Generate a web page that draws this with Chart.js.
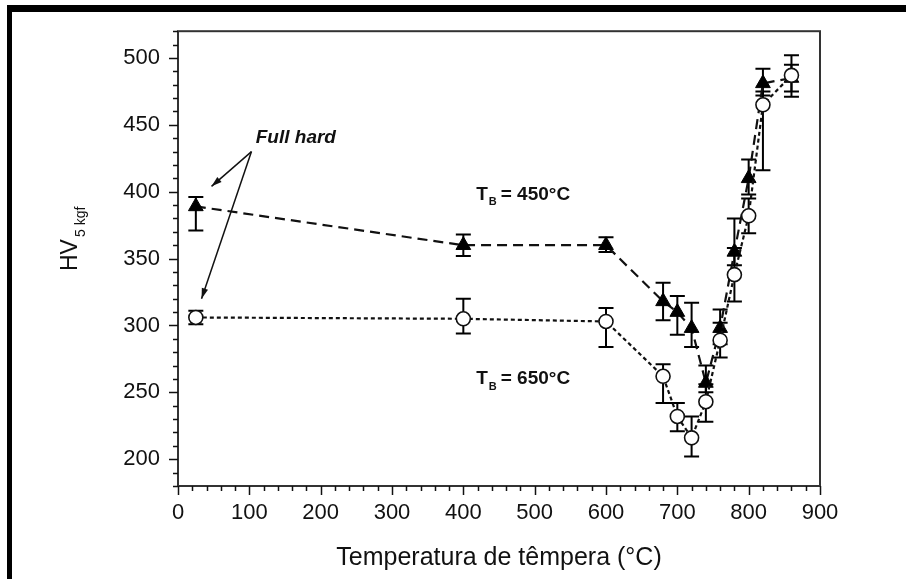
<!DOCTYPE html>
<html lang="pt">
<head>
    <meta charset="UTF-8">
    <title>Dureza HV x temperatura de têmpera</title>
    <script src="https://cdn.jsdelivr.net/npm/chart.js"></script>
    <style>
        body { margin: 0; background: #fff; }
        .page { position: relative; width: 906px; height: 579px; overflow: hidden; }
        .page canvas { position: absolute; left: 0; top: 0; }
        .frame {
            position: absolute; left: 7px; top: 5px; right: 0; bottom: 0;
            border-top: 7px solid #000; border-left: 5px solid #000;
            pointer-events: none;
        }
    </style>
</head>
<body>
    <div class="page">
        <canvas id="hvChart" width="906" height="579"></canvas>
        <div class="frame"></div>
    </div>
    <script>
        // temperatura de têmpera (°C)
        const temps = [25, 400, 600, 680, 700, 720, 740, 760, 780, 800, 820, 860];

        // T_B = 450°C (triângulos)
        const hv450   = [389, 360, 360, 318, 310, 298, 257, 298, 355, 410, 481, 485];
        const hv450Lo = [371, 352, 355, 304, 293, 284, 250, 286, 345, 398, 472, 475];
        const hv450Hi = [396, 368, 366, 332, 322, 317, 270, 312, 380, 424, 492, 495];

        // T_B = 650°C (círculos)
        const hv650   = [306, 305, 303, 262, 232, 216, 243, 289, 338, 382, 465, 487];
        const hv650Lo = [301, 294, 284, 242, 221, 202, 228, 276, 318, 369, 416, 471];
        const hv650Hi = [311, 320, 313, 271, 242, 232, 256, 302, 358, 395, 475, 502];

        const xLabels = [0, 100, 200, 300, 400, 500, 600, 700, 800, 900];
        const yLabels = [200, 250, 300, 350, 400, 450, 500];

        const FONT = "'Liberation Sans', Arial, sans-serif";

        // error bars, drawn under the markers
        const errorBars = {
            id: 'errorBars',
            beforeDatasetsDraw(chart) {
                const ctx = chart.ctx;
                const xs = chart.scales.x, ys = chart.scales.y;
                ctx.save();
                ctx.strokeStyle = '#000';
                ctx.lineWidth = 2;
                chart.data.datasets.forEach(ds => {
                    ds.data.forEach((p, i) => {
                        const px = xs.getPixelForValue(p.x);
                        const lo = ys.getPixelForValue(ds.errLo[i]);
                        const hi = ys.getPixelForValue(ds.errHi[i]);
                        ctx.beginPath();
                        ctx.moveTo(px, lo); ctx.lineTo(px, hi);
                        ctx.moveTo(px - 7.5, lo); ctx.lineTo(px + 7.5, lo);
                        ctx.moveTo(px - 7.5, hi); ctx.lineTo(px + 7.5, hi);
                        ctx.stroke();
                    });
                });
                ctx.restore();
            }
        };

        // box, axis lines, major/minor ticks, y title
        const axesBox = {
            id: 'axesBox',
            afterDraw(chart) {
                const ctx = chart.ctx;
                const a = chart.chartArea;
                const xs = chart.scales.x, ys = chart.scales.y;
                ctx.save();
                ctx.strokeStyle = '#333';
                ctx.lineWidth = 2;
                ctx.strokeRect(a.left, a.top, a.right - a.left, a.bottom - a.top);

                ctx.strokeStyle = '#111';
                ctx.lineWidth = 1.5;
                ctx.beginPath();
                for (let v = 0; v <= 900; v += 20) {
                    const px = Math.round(xs.getPixelForValue(v)) + 0.5;
                    const len = v % 100 === 0 ? 9 : 5;
                    ctx.moveTo(px, a.bottom); ctx.lineTo(px, a.bottom + len);
                }
                for (let v = 180; v <= 520; v += 10) {
                    const py = Math.round(ys.getPixelForValue(v)) + 0.5;
                    const len = v % 50 === 0 ? 9 : 5;
                    ctx.moveTo(a.left, py); ctx.lineTo(a.left - len, py);
                }
                ctx.stroke();

                // HV 5 kgf
                ctx.translate(a.left - 101, 271);
                ctx.rotate(-Math.PI / 2);
                ctx.fillStyle = '#111';
                ctx.textAlign = 'left';
                ctx.textBaseline = 'alphabetic';
                ctx.font = '23px ' + FONT;
                ctx.fillText('HV', 0, 0);
                const w = ctx.measureText('HV').width;
                ctx.font = '14px ' + FONT;
                ctx.fillText('5 kgf', w + 2, 8);
                ctx.restore();
            }
        };

        // text labels and arrows in data coordinates
        const labelPos450 = { x: 418, y: 398 };
        const labelPos650 = { x: 418, y: 260 };
        const fullHardPos = { x: 109, y: 440 };
        const arrowFrom = { x: 103, y: 430 };
        const arrowTips = [{ x: 47, y: 404 }, { x: 33, y: 320 }];

        function drawTb(ctx, px, py, rest) {
            ctx.font = 'bold 19px ' + FONT;
            ctx.fillText('T', px, py);
            let w = ctx.measureText('T').width;
            ctx.font = 'bold 11px ' + FONT;
            ctx.fillText('B', px + w + 1, py + 8);
            const wb = ctx.measureText('B').width;
            ctx.font = 'bold 19px ' + FONT;
            ctx.fillText(rest, px + w + wb + 5, py);
        }

        const notes = {
            id: 'notes',
            afterDatasetsDraw(chart) {
                const ctx = chart.ctx;
                const xs = chart.scales.x, ys = chart.scales.y;
                const P = p => [xs.getPixelForValue(p.x), ys.getPixelForValue(p.y)];
                ctx.save();
                ctx.fillStyle = '#111';
                ctx.textAlign = 'left';
                ctx.textBaseline = 'middle';

                let [lx, ly] = P(labelPos450);
                drawTb(ctx, lx, ly, '= 450°C');
                [lx, ly] = P(labelPos650);
                drawTb(ctx, lx, ly, '= 650°C');

                [lx, ly] = P(fullHardPos);
                ctx.font = 'italic bold 19px ' + FONT;
                ctx.fillText('Full hard', lx, ly);

                const [ox, oy] = P(arrowFrom);
                ctx.strokeStyle = '#111';
                ctx.lineWidth = 1.5;
                arrowTips.forEach(t => {
                    const [tx, ty] = P(t);
                    const ang = Math.atan2(ty - oy, tx - ox);
                    ctx.beginPath();
                    ctx.moveTo(ox, oy); ctx.lineTo(tx, ty);
                    ctx.stroke();
                    ctx.beginPath();
                    ctx.moveTo(tx, ty);
                    ctx.lineTo(tx - 11 * Math.cos(ang - 0.3), ty - 11 * Math.sin(ang - 0.3));
                    ctx.lineTo(tx - 11 * Math.cos(ang + 0.3), ty - 11 * Math.sin(ang + 0.3));
                    ctx.closePath();
                    ctx.fill();
                });
                ctx.restore();
            }
        };

        const ctx = document.getElementById('hvChart').getContext('2d');
        new Chart(ctx, {
            type: 'scatter',
            data: {
                datasets: [{
                    label: 'T_B = 650°C',
                    data: temps.map((t, i) => ({ x: t, y: hv650[i] })),
                    errLo: hv650Lo,
                    errHi: hv650Hi,
                    showLine: true,
                    borderColor: '#111',
                    borderWidth: 2.2,
                    borderDash: [4, 3],
                    pointStyle: 'circle',
                    pointRadius: 7,
                    pointBackgroundColor: '#fff',
                    pointBorderColor: '#111',
                    pointBorderWidth: 1.6,
                    order: 0
                }, {
                    label: 'T_B = 450°C',
                    data: temps.map((t, i) => ({ x: t, y: hv450[i] })),
                    errLo: hv450Lo,
                    errHi: hv450Hi,
                    showLine: true,
                    borderColor: '#111',
                    borderWidth: 2.2,
                    borderDash: [10, 6],
                    pointStyle: 'triangle',
                    pointRadius: 8.5,
                    pointBackgroundColor: '#000',
                    pointBorderColor: '#000',
                    pointBorderWidth: 1,
                    order: 1
                }]
            },
            options: {
                responsive: false,
                animation: false,
                devicePixelRatio: 1,
                layout: { padding: { left: 0, top: 27, right: 86, bottom: 0 } },
                plugins: {
                    legend: { display: false },
                    tooltip: { enabled: false }
                },
                scales: {
                    x: {
                        type: 'linear',
                        min: 0,
                        max: 900,
                        afterFit(s) { s.height = 93; },
                        grid: { display: false, drawTicks: false },
                        border: { display: false },
                        ticks: {
                            stepSize: 20,
                            autoSkip: false,
                            maxRotation: 0,
                            padding: 14,
                            color: '#111',
                            font: { family: FONT, size: 22 },
                            callback: v => xLabels.includes(v) ? String(v) : ''
                        },
                        title: {
                            display: true,
                            text: 'Temperatura de têmpera (°C)',
                            color: '#111',
                            font: { family: FONT, size: 25 },
                            padding: { top: 0, bottom: 6 }
                        }
                    },
                    y: {
                        type: 'linear',
                        min: 180,
                        max: 520,
                        afterFit(s) { s.width = 178; },
                        grid: { display: false, drawTicks: false },
                        border: { display: false },
                        ticks: {
                            stepSize: 10,
                            autoSkip: false,
                            padding: 18,
                            color: '#111',
                            font: { family: FONT, size: 22 },
                            callback: v => yLabels.includes(v) ? String(v) : ''
                        }
                    }
                }
            },
            plugins: [errorBars, axesBox, notes]
        });
    </script>
</body>
</html>
